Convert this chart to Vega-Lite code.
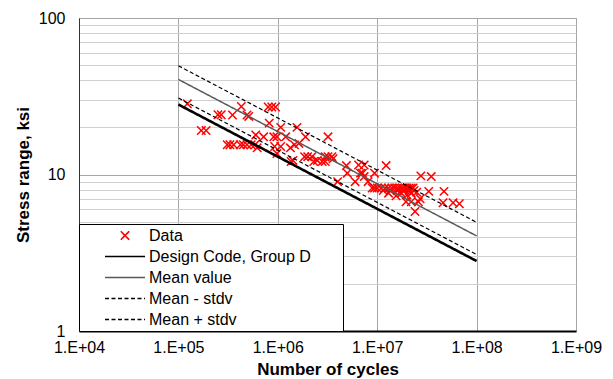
{
  "$schema": "https://vega.github.io/schema/vega-lite/v6.json",
  "autosize": "none",
  "padding": {"left": 79, "top": 18, "right": 37, "bottom": 48},
  "width": 497,
  "height": 313,
  "background": "white",
  "config": {
    "view": {"stroke": "#8c8c8c", "strokeWidth": 1},
    "font": "Liberation Sans",
    "legend": {
      "orient": "bottom-left",
      "offset": 0,
      "padding": 1,
      "strokeColor": "black",
      "fillColor": "white",
      "cornerRadius": 0,
      "symbolOffset": 24,
      "symbolSize": 1600,
      "symbolStrokeWidth": 1.6,
      "clipHeight": 21,
      "rowPadding": 0,
      "labelFont": "Liberation Sans",
      "labelFontSize": 16,
      "labelColor": "black",
      "labelOffset": 3,
      "labelLimit": 400,
      "symbolFillColor": "transparent"
    }
  },
  "data": {"values": [
    {"N": 123000, "S": 28.3, "series": "Data"},
    {"N": 170000, "S": 19.1, "series": "Data"},
    {"N": 190000, "S": 19.1, "series": "Data"},
    {"N": 250000, "S": 24.1, "series": "Data"},
    {"N": 270000, "S": 24.1, "series": "Data"},
    {"N": 310000, "S": 15.5, "series": "Data"},
    {"N": 330000, "S": 15.5, "series": "Data"},
    {"N": 360000, "S": 15.5, "series": "Data"},
    {"N": 350000, "S": 24, "series": "Data"},
    {"N": 430000, "S": 27.2, "series": "Data"},
    {"N": 420000, "S": 15.5, "series": "Data"},
    {"N": 450000, "S": 15.5, "series": "Data"},
    {"N": 490000, "S": 15.5, "series": "Data"},
    {"N": 540000, "S": 15.5, "series": "Data"},
    {"N": 490000, "S": 24, "series": "Data"},
    {"N": 510000, "S": 23.5, "series": "Data"},
    {"N": 600000, "S": 17.9, "series": "Data"},
    {"N": 590000, "S": 15.5, "series": "Data"},
    {"N": 620000, "S": 14.8, "series": "Data"},
    {"N": 720000, "S": 17.4, "series": "Data"},
    {"N": 800000, "S": 27, "series": "Data"},
    {"N": 870000, "S": 27, "series": "Data"},
    {"N": 950000, "S": 27, "series": "Data"},
    {"N": 820000, "S": 21.3, "series": "Data"},
    {"N": 910000, "S": 17.4, "series": "Data"},
    {"N": 980000, "S": 17.4, "series": "Data"},
    {"N": 930000, "S": 15.1, "series": "Data"},
    {"N": 980000, "S": 13.6, "series": "Data"},
    {"N": 1070000, "S": 20, "series": "Data"},
    {"N": 1070000, "S": 15.1, "series": "Data"},
    {"N": 1200000, "S": 17.4, "series": "Data"},
    {"N": 1340000, "S": 14.8, "series": "Data"},
    {"N": 1360000, "S": 12.1, "series": "Data"},
    {"N": 1420000, "S": 12.3, "series": "Data"},
    {"N": 1470000, "S": 15.5, "series": "Data"},
    {"N": 1560000, "S": 20, "series": "Data"},
    {"N": 1630000, "S": 15.8, "series": "Data"},
    {"N": 1900000, "S": 17.4, "series": "Data"},
    {"N": 1860000, "S": 13, "series": "Data"},
    {"N": 2000000, "S": 13, "series": "Data"},
    {"N": 2200000, "S": 13, "series": "Data"},
    {"N": 2300000, "S": 12.1, "series": "Data"},
    {"N": 2500000, "S": 12.3, "series": "Data"},
    {"N": 2800000, "S": 12.1, "series": "Data"},
    {"N": 3000000, "S": 13, "series": "Data"},
    {"N": 3200000, "S": 13, "series": "Data"},
    {"N": 3500000, "S": 13, "series": "Data"},
    {"N": 3200000, "S": 17.4, "series": "Data"},
    {"N": 3000000, "S": 12.1, "series": "Data"},
    {"N": 3600000, "S": 12.6, "series": "Data"},
    {"N": 4000000, "S": 9.0, "series": "Data"},
    {"N": 4900000, "S": 11.4, "series": "Data"},
    {"N": 5000000, "S": 10.2, "series": "Data"},
    {"N": 6000000, "S": 9.0, "series": "Data"},
    {"N": 6500000, "S": 11.5, "series": "Data"},
    {"N": 6800000, "S": 10.2, "series": "Data"},
    {"N": 7100000, "S": 10.2, "series": "Data"},
    {"N": 7400000, "S": 11.5, "series": "Data"},
    {"N": 7400000, "S": 9.7, "series": "Data"},
    {"N": 8100000, "S": 9.0, "series": "Data"},
    {"N": 8900000, "S": 8.2, "series": "Data"},
    {"N": 9400000, "S": 8.2, "series": "Data"},
    {"N": 9400000, "S": 10.2, "series": "Data"},
    {"N": 12300000, "S": 11.4, "series": "Data"},
    {"N": 10000000, "S": 8.2, "series": "Data"},
    {"N": 11000000, "S": 8.2, "series": "Data"},
    {"N": 12000000, "S": 8.2, "series": "Data"},
    {"N": 13000000, "S": 8.2, "series": "Data"},
    {"N": 14000000, "S": 8.2, "series": "Data"},
    {"N": 15000000, "S": 8.2, "series": "Data"},
    {"N": 16000000, "S": 8.2, "series": "Data"},
    {"N": 17000000, "S": 8.2, "series": "Data"},
    {"N": 18000000, "S": 8.2, "series": "Data"},
    {"N": 19000000, "S": 8.2, "series": "Data"},
    {"N": 20000000, "S": 8.2, "series": "Data"},
    {"N": 21000000, "S": 8.2, "series": "Data"},
    {"N": 22000000, "S": 8.2, "series": "Data"},
    {"N": 23000000, "S": 8.2, "series": "Data"},
    {"N": 11500000, "S": 7.9, "series": "Data"},
    {"N": 13500000, "S": 7.9, "series": "Data"},
    {"N": 16000000, "S": 7.9, "series": "Data"},
    {"N": 18500000, "S": 7.9, "series": "Data"},
    {"N": 21000000, "S": 7.9, "series": "Data"},
    {"N": 23500000, "S": 7.9, "series": "Data"},
    {"N": 25000000, "S": 7.7, "series": "Data"},
    {"N": 13000000, "S": 7.6, "series": "Data"},
    {"N": 17500000, "S": 7.6, "series": "Data"},
    {"N": 20000000, "S": 7.4, "series": "Data"},
    {"N": 22000000, "S": 7.6, "series": "Data"},
    {"N": 15500000, "S": 7.3, "series": "Data"},
    {"N": 19500000, "S": 6.7, "series": "Data"},
    {"N": 22000000, "S": 6.7, "series": "Data"},
    {"N": 24000000, "S": 5.8, "series": "Data"},
    {"N": 26000000, "S": 6.7, "series": "Data"},
    {"N": 27000000, "S": 7.0, "series": "Data"},
    {"N": 27500000, "S": 9.8, "series": "Data"},
    {"N": 33000000, "S": 7.8, "series": "Data"},
    {"N": 35000000, "S": 9.7, "series": "Data"},
    {"N": 47000000, "S": 7.8, "series": "Data"},
    {"N": 46000000, "S": 6.6, "series": "Data"},
    {"N": 58000000, "S": 6.6, "series": "Data"},
    {"N": 67000000, "S": 6.5, "series": "Data"},
    {"N": 100000, "S": 28.0, "series": "Design Code, Group D"},
    {"N": 100000000, "S": 2.80, "series": "Design Code, Group D"},
    {"N": 100000, "S": 40.5, "series": "Mean value"},
    {"N": 100000000, "S": 4.05, "series": "Mean value"},
    {"N": 100000, "S": 30.8, "series": "Mean - stdv"},
    {"N": 100000000, "S": 3.08, "series": "Mean - stdv"},
    {"N": 100000, "S": 49.5, "series": "Mean + stdv"},
    {"N": 100000000, "S": 4.95, "series": "Mean + stdv"}
  ]},
  "encoding": {
    "x": {
      "field": "N", "type": "quantitative",
      "scale": {"type": "log", "domain": [10000, 1000000000], "nice": false},
      "axis": {
        "title": "Number of cycles",
        "values": [10000, 100000, 1000000, 10000000, 100000000, 1000000000],
        "labelExpr": "'1.E+0' + round(log(datum.value)/LN10)",
        "labelFont": "Liberation Sans", "labelFontSize": 16, "labelColor": "black",
        "labelPadding": 8, "labelFlush": false, "labelOverlap": false,
        "titleFont": "Liberation Sans", "titleFontSize": 17, "titleFontWeight": "bold", "titleColor": "black",
        "titlePadding": 6,
        "ticks": false,
        "domainColor": "black", "domainWidth": 2,
        "gridColor": "#a6a6a6", "gridWidth": 1, "gridOpacity": 1
      }
    },
    "y": {
      "field": "S", "type": "quantitative",
      "scale": {"type": "log", "domain": [1, 100], "nice": false},
      "axis": {
        "title": "Stress range, ksi",
        "values": [1, 2, 3, 4, 5, 6, 7, 8, 9, 10, 20, 30, 40, 50, 60, 70, 80, 90, 100],
        "labelExpr": "(datum.value == 1 || datum.value == 10 || datum.value == 100) ? datum.label : ''",
        "labelFont": "Liberation Sans", "labelFontSize": 16, "labelColor": "black",
        "labelPadding": 14, "labelFlush": false, "labelOverlap": false,
        "titleFont": "Liberation Sans", "titleFontSize": 17, "titleFontWeight": "bold", "titleColor": "black",
        "titlePadding": 6,
        "ticks": false,
        "domainColor": "#333333", "domainWidth": 1,
        "gridColor": {"condition": {"test": "datum.value == 10 || datum.value == 100", "value": "#a6a6a6"}, "value": "#cfcfcf"},
        "gridWidth": 1, "gridOpacity": 1
      }
    }
  },
  "layer": [
    {
      "transform": [{"filter": "datum.series === 'Data'"}],
      "mark": {"type": "point", "filled": false, "strokeWidth": 1.5, "opacity": 1, "size": 1600},
      "encoding": {
        "color": {
          "field": "series", "type": "nominal",
          "scale": {
            "domain": ["Data", "Design Code, Group D", "Mean value", "Mean - stdv", "Mean + stdv"],
            "range": ["#ff0000", "#000000", "#595959", "#000000", "#000000"]
          },
          "legend": {
            "title": null,
            "labelExpr": "datum.label + '\u00a0\u00a0\u00a0\u00a0\u00a0\u00a0\u00a0\u200b'",
            "encode": {"symbols": {"strokeWidth": {"condition": {"test": "datum.value === 'Design Code, Group D'", "value": 2.6}, "value": 1.6}}}
          }
        },
        "shape": {
          "field": "series", "type": "nominal",
          "scale": {
            "domain": ["Data", "Design Code, Group D", "Mean value", "Mean - stdv", "Mean + stdv"],
            "range": ["M-0.21,-0.21L0.21,0.21M-0.21,0.21L0.21,-0.21", "stroke", "stroke", "stroke", "stroke"]
          },
          "legend": {"title": null, "labelExpr": "datum.label + '\u00a0\u00a0\u00a0\u00a0\u00a0\u00a0\u00a0\u200b'"}
        }
      }
    },
    {
      "transform": [{"filter": "datum.series !== 'Data'"}],
      "mark": {"type": "line"},
      "encoding": {
        "color": {"field": "series", "type": "nominal"},
        "strokeDash": {
          "field": "series", "type": "nominal",
          "scale": {
            "domain": ["Data", "Design Code, Group D", "Mean value", "Mean - stdv", "Mean + stdv"],
            "range": [[1, 0], [1, 0], [1, 0], [4, 2.5], [4, 2.5]]
          },
          "legend": {"title": null, "labelExpr": "datum.label + '\u00a0\u00a0\u00a0\u00a0\u00a0\u00a0\u00a0\u200b'"}
        },
        "strokeWidth": {
          "condition": [
            {"test": "datum.series === 'Design Code, Group D'", "value": 2.6},
            {"test": "datum.series === 'Mean value'", "value": 1.5}
          ],
          "value": 1.2
        }
      }
    }
  ]
}
